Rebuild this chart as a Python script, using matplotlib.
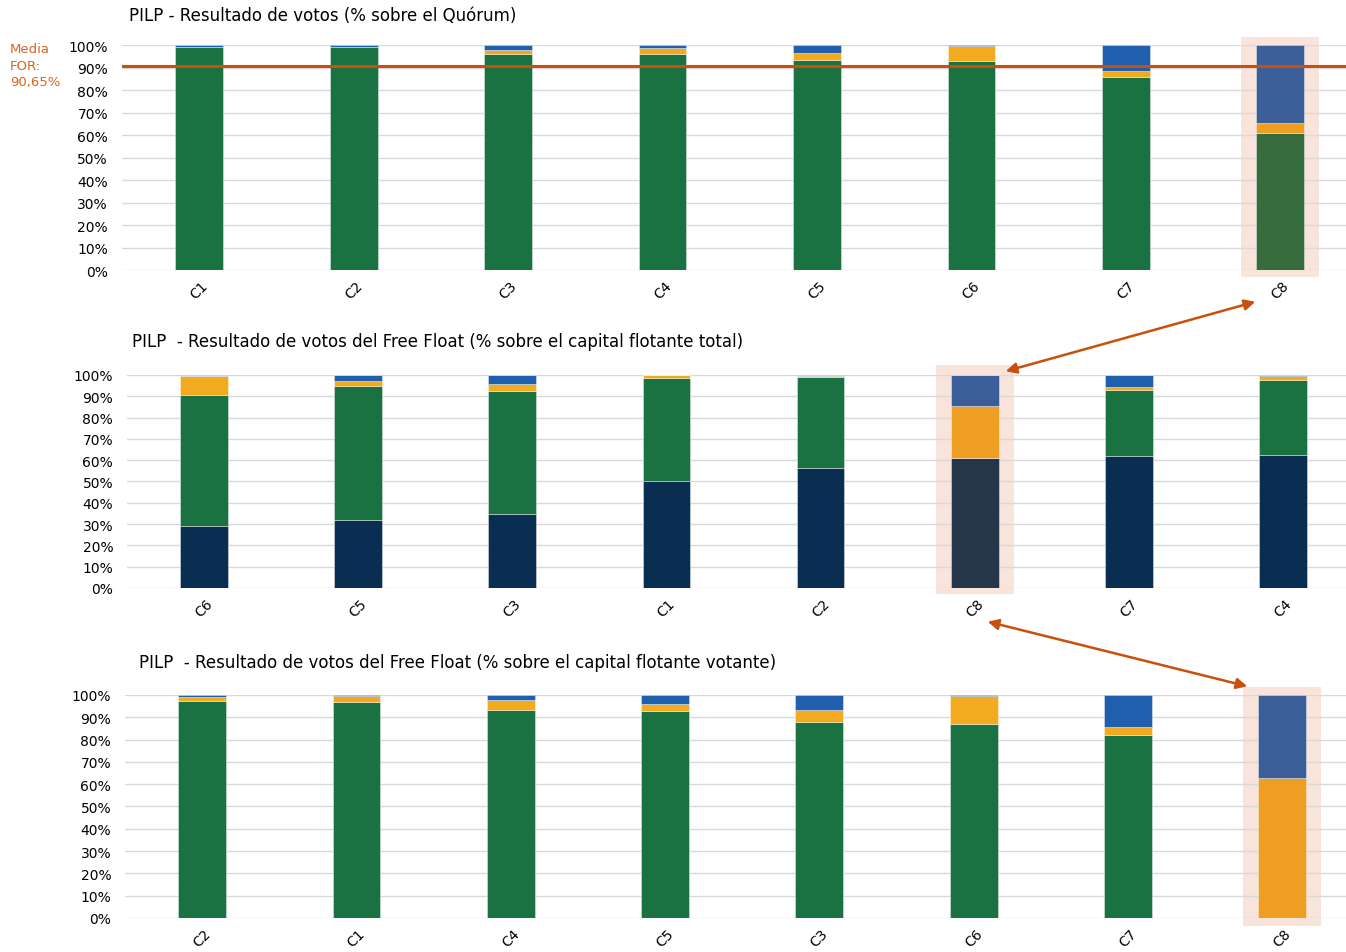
import numpy as np
import matplotlib
matplotlib.use("Agg")
import matplotlib.pyplot as plt
from matplotlib.patches import Rectangle, FancyArrowPatch

plt.rcParams['font.family'] = ['DejaVu Sans']

# --- data (% values) ---
# chart 1: % sobre el Quorum
cats_q = ["C1", "C2", "C3", "C4", "C5", "C6", "C7", "C8"]
q_favor = [99.0, 99.0, 96.1, 96.0, 93.3, 92.9, 85.8, 60.9]
q_abst = [0.3, 0.3, 1.9, 2.7, 3.1, 6.7, 2.6, 4.4]
q_contra = [0.7, 0.7, 2.0, 1.3, 3.6, 0.4, 11.6, 34.7]
media_for = 90.65

# chart 2: % sobre el capital flotante total
cats_t = ["C6", "C5", "C3", "C1", "C2", "C8", "C7", "C4"]
t_novota = [29.1, 31.9, 34.7, 50.4, 56.2, 60.9, 61.8, 62.6]
t_favor = [61.6, 63.1, 57.6, 48.2, 42.7, 0.0, 31.3, 35.2]
t_abst = [9.0, 2.2, 3.3, 1.2, 0.4, 24.5, 1.3, 1.7]
t_contra = [0.0, 2.8, 4.4, 0.2, 0.0, 14.6, 5.6, 0.5]
t_otros = [0.3, 0.0, 0.0, 0.0, 0.7, 0.0, 0.0, 0.0]

# chart 3: % sobre el capital flotante votante
cats_v = ["C2", "C1", "C4", "C5", "C3", "C6", "C7", "C8"]
v_favor = [97.4, 96.7, 93.4, 92.7, 88.0, 87.1, 82.2, 0.0]
v_abst = [1.8, 3.0, 4.5, 3.3, 5.1, 12.3, 3.3, 62.8]
v_contra = [0.8, 0.3, 2.1, 4.0, 6.9, 0.6, 14.5, 37.2]

GREEN = ("#1a7142", "#376c3e")
ORANGE = ("#f2ab1e", "#ee9f22")
BLUE = ("#1f5fad", "#3b5e99")
NAVY = ("#0a2e52", "#25364a")
GREY = ("#8a9bb0", "#8a9bb0")
HL_BG = "#f9e4dc"
ARROW = "#c9500a"


def draw(ax, cats, segs, hl, rect_y):
    x = np.arange(len(cats))
    ax.add_patch(Rectangle((hl - 0.253, rect_y[0]), 0.506, rect_y[1] - rect_y[0],
                           facecolor=HL_BG, edgecolor="none", zorder=0.2, clip_on=False))
    bottom = np.zeros(len(cats))
    for vals, col in segs:
        v = np.array(vals) / 100
        colors = [col[1] if i == hl else col[0] for i in range(len(cats))]
        ax.bar(x, v, 0.31, bottom=bottom, color=colors,
               edgecolor=(1, 1, 1, 0.45), linewidth=0.6, zorder=2)
        bottom += v
    ax.set_xlim(-0.5, 7.5)
    ax.set_ylim(0, 1)
    ax.set_yticks(np.arange(0, 1.01, 0.1))
    ax.set_yticklabels([f"{int(round(t*100))}%" for t in np.arange(0, 1.01, 0.1)], fontsize=10)
    ax.set_xticks(x)
    ax.set_xticklabels(cats, rotation=45, fontsize=10)
    ax.tick_params(axis="both", length=0)
    ax.tick_params(axis="y", pad=10)
    ax.tick_params(axis="x", pad=6)
    ax.set_axisbelow(True)
    ax.grid(axis="y", color="#d9d9d9", linewidth=1, zorder=0.5)
    for s in ax.spines.values():
        s.set_visible(False)


fig = plt.figure(figsize=(13.46, 9.53), dpi=100)

ax1 = fig.add_axes([0.0906, 0.7156, 0.918, 0.2361])
draw(ax1, cats_q, [(q_favor, GREEN), (q_abst, ORANGE), (q_contra, BLUE)], 7, (-0.031, 1.036))
ax1.axhline(media_for / 100, color=ARROW, linewidth=2.2, zorder=3)

ax2 = fig.add_axes([0.0944, 0.3820, 0.916, 0.2235])
draw(ax2, cats_t, [(t_novota, NAVY), (t_favor, GREEN), (t_abst, ORANGE),
                   (t_contra, BLUE), (t_otros, GREY)], 5, (-0.028, 1.047))

ax3 = fig.add_axes([0.0929, 0.0357, 0.917, 0.2340])
draw(ax3, cats_v, [(v_favor, GREEN), (v_abst, ORANGE), (v_contra, BLUE)], 7, (-0.036, 1.036))

# titles
fig.text(129 / 1346, 1 - 16 / 953, "PILP - Resultado de votos (% sobre el Quórum)",
         fontsize=12, va="center", ha="left")
fig.text(132 / 1346, 1 - 342 / 953,
         "PILP  - Resultado de votos del Free Float (% sobre el capital flotante total)",
         fontsize=12, va="center", ha="left")
fig.text(139 / 1346, 1 - 663 / 953,
         "PILP  - Resultado de votos del Free Float (% sobre el capital flotante votante)",
         fontsize=12, va="center", ha="left")

fig.text(10 / 1346, 1 - 43 / 953, "Media\nFOR:\n90,65%", color="#d9641e",
         fontsize=9.5, va="top", ha="left", linespacing=1.35)

# arrows linking C8
for p1, p2 in [((1258, 302), (1003, 373)), ((985, 622), (1250, 688))]:
    a = FancyArrowPatch((p1[0] / 1346, 1 - p1[1] / 953), (p2[0] / 1346, 1 - p2[1] / 953),
                        transform=fig.transFigure, arrowstyle="<|-|>", mutation_scale=16,
                        color=ARROW, linewidth=1.8)
    fig.add_artist(a)

fig.savefig("out.png", dpi=100)
